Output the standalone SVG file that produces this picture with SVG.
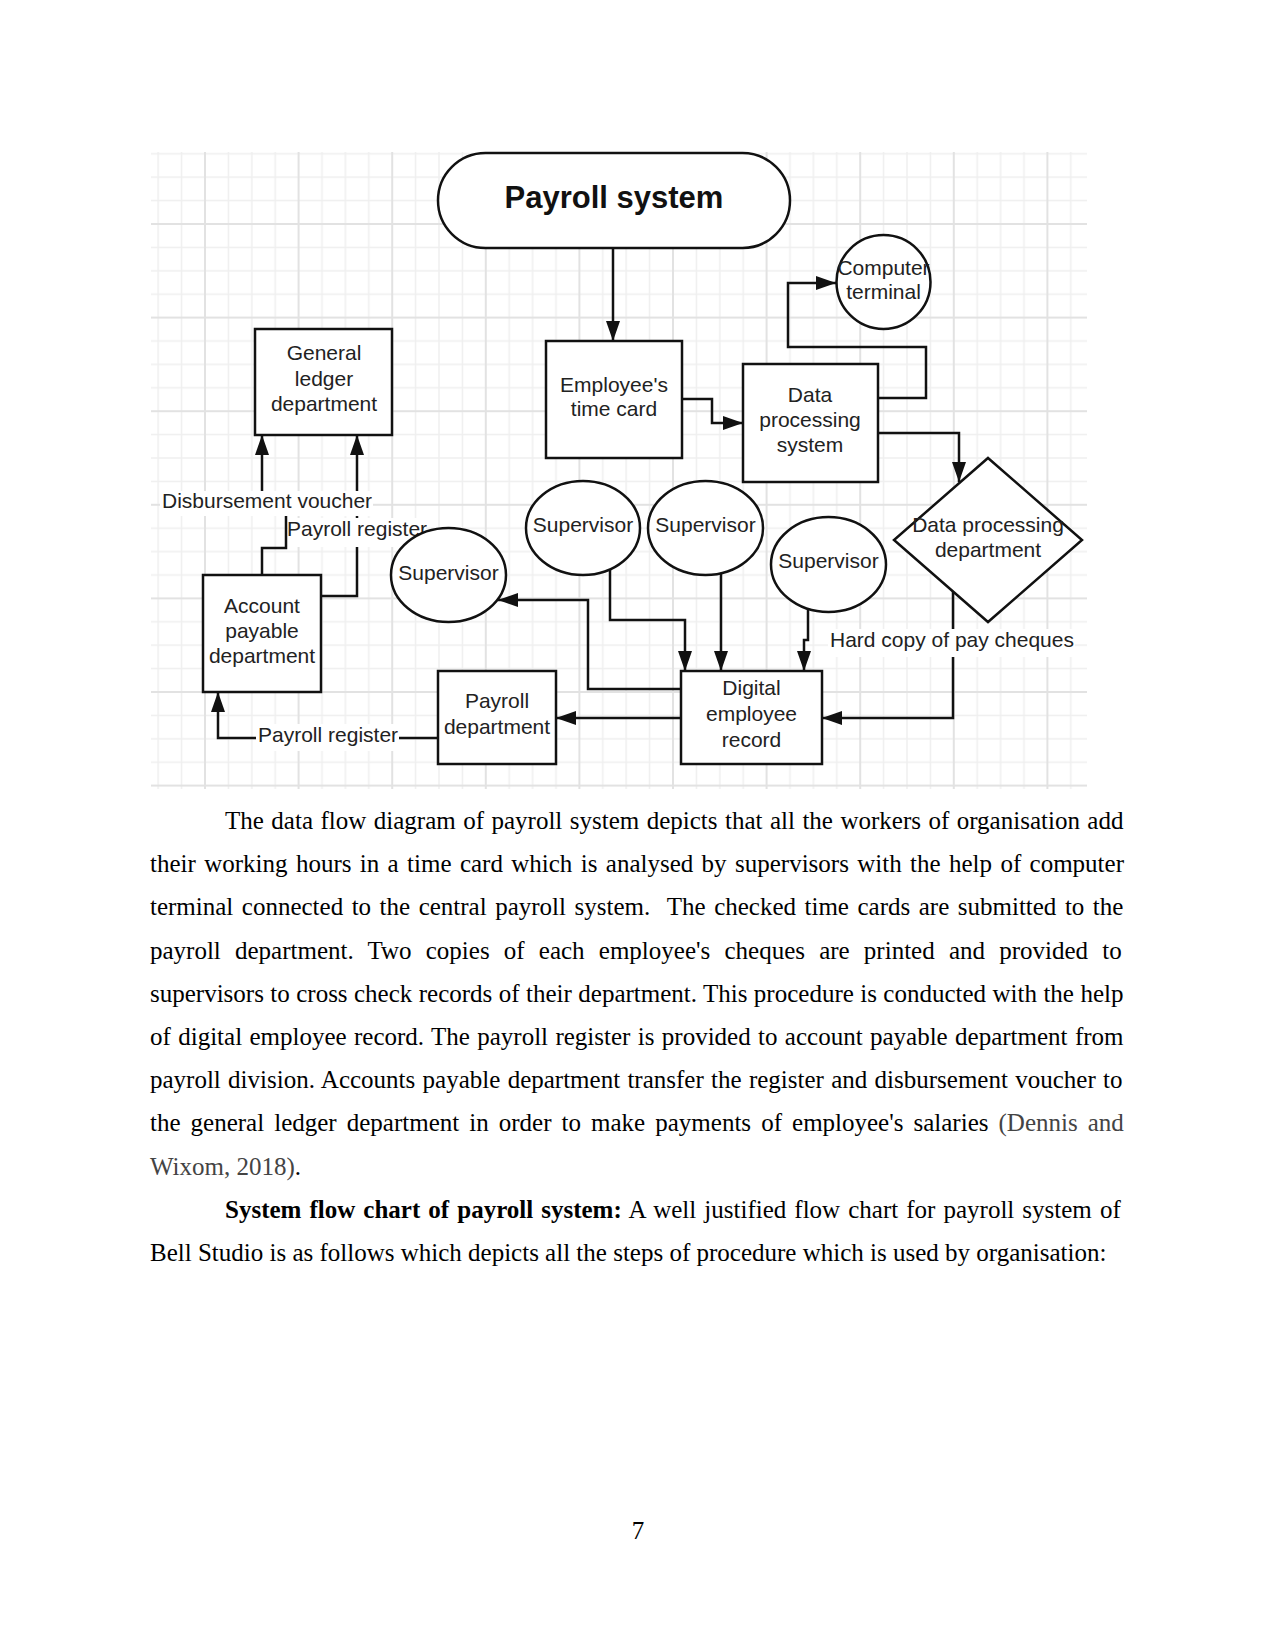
<svg xmlns="http://www.w3.org/2000/svg" width="1275" height="1650" viewBox="0 0 1275 1650">
<style>
.node{fill:#fff;stroke:#111;stroke-width:2.5}
.nt{font-family:"Liberation Sans",Arial,sans-serif;font-size:21px;fill:#222;text-anchor:middle}
.title{font-family:"Liberation Sans",Arial,sans-serif;font-size:31px;font-weight:bold;fill:#111;text-anchor:middle}
.lbl{font-family:"Liberation Sans",Arial,sans-serif;font-size:21px;fill:#222}
.lbg{fill:#fff}
.conn{fill:none;stroke:#111;stroke-width:2.5;marker-end:url(#arr)}
.body{font-family:"Liberation Serif","Times New Roman",serif;font-size:25px;fill:#000}
.cite{fill:#444}
</style>
<defs>
<pattern id="grid" patternUnits="userSpaceOnUse" x="204" y="223" width="93.6" height="93.6">
<path d="M24.4,0V93.6M47.8,0V93.6M71.2,0V93.6M0,24.4H93.6M0,47.8H93.6M0,71.2H93.6" stroke="#efefef" stroke-width="1.5" fill="none"/>
<path d="M1,0V93.6M0,1H93.6" stroke="#e2e2e2" stroke-width="2" fill="none"/>
</pattern>
<marker id="arr" markerUnits="userSpaceOnUse" markerWidth="20" markerHeight="14" refX="20" refY="7" orient="auto">
<path d="M0,0L20,7L0,14z" fill="#111"/>
</marker>
</defs>
<rect width="1275" height="1650" fill="#fff"/>
<rect x="151" y="152" width="936" height="637" fill="url(#grid)"/>

<g id="connectors">
<path class="conn" d="M613,248V341"/>
<path class="conn" d="M682,399H712V423H743"/>
<path class="conn" d="M878,398H926V347H788V283H836"/>
<path class="conn" d="M878,433H959V482"/>
<path class="conn" d="M953,591V718H822"/>
<path class="conn" d="M610,569V620H685V671"/>
<path class="conn" d="M721,573V671"/>
<path class="conn" d="M808,609V640H804V671"/>
<path class="conn" d="M681,689H588V600H498"/>
<path class="conn" d="M681,718H556"/>
<path class="conn" d="M438,738H218V692"/>
<path class="conn" d="M262,575V548H286V505H262V435"/>
<path class="conn" d="M321,596H357V435"/>
<rect class="lbg" x="160" y="491" width="213" height="25"/>
<text class="lbl" x="162" y="508">Disbursement voucher</text>
<rect class="lbg" x="288" y="518" width="138" height="29"/>
<text class="lbl" x="287" y="536">Payroll register</text>
<rect class="lbg" x="256" y="724" width="143" height="27"/>
<text class="lbl" x="258" y="742">Payroll register</text>
<rect class="lbg" x="828" y="629" width="247" height="28"/>
<text class="lbl" x="830" y="647">Hard copy of pay cheques</text>
</g>

<g id="payroll-system">
<rect class="node" x="438" y="153" width="352" height="95" rx="47.5"/>
<text class="title" x="614" y="208">Payroll system</text>
</g>
<g id="employee-time-card">
<rect class="node" x="546" y="341" width="136" height="117"/>
<text class="nt" x="614" y="392">Employee's</text>
<text class="nt" x="614" y="416">time card</text>
</g>
<g id="data-processing-system">
<rect class="node" x="743" y="364" width="135" height="118"/>
<text class="nt" x="810" y="402">Data</text>
<text class="nt" x="810" y="427">processing</text>
<text class="nt" x="810" y="452">system</text>
</g>
<g id="computer-terminal">
<circle class="node" cx="883.5" cy="282" r="47"/>
<text class="nt" x="883.5" y="275">Computer</text>
<text class="nt" x="883.5" y="299">terminal</text>
</g>
<g id="general-ledger">
<rect class="node" x="255" y="329" width="137" height="106"/>
<text class="nt" x="324" y="360">General</text>
<text class="nt" x="324" y="386">ledger</text>
<text class="nt" x="324" y="411">department</text>
</g>
<g id="data-processing-department">
<path class="node" d="M988,458L1082,540L988,622L894,540Z"/>
<text class="nt" x="988" y="532">Data processing</text>
<text class="nt" x="988" y="557">department</text>
</g>
<g id="supervisor-1">
<ellipse class="node" cx="448.5" cy="575" rx="57.5" ry="47"/>
<text class="nt" x="448.5" y="580">Supervisor</text>
</g>
<g id="supervisor-2">
<ellipse class="node" cx="583" cy="528" rx="57" ry="47"/>
<text class="nt" x="583" y="532">Supervisor</text>
</g>
<g id="supervisor-3">
<ellipse class="node" cx="705.5" cy="528" rx="57.5" ry="47"/>
<text class="nt" x="705.5" y="532">Supervisor</text>
</g>
<g id="supervisor-4">
<ellipse class="node" cx="828.5" cy="564.5" rx="57.5" ry="47.5"/>
<text class="nt" x="828.5" y="568">Supervisor</text>
</g>
<g id="account-payable">
<rect class="node" x="203" y="575" width="118" height="117"/>
<text class="nt" x="262" y="613">Account</text>
<text class="nt" x="262" y="638">payable</text>
<text class="nt" x="262" y="663">department</text>
</g>
<g id="payroll-department">
<rect class="node" x="438" y="671" width="118" height="93"/>
<text class="nt" x="497" y="708">Payroll</text>
<text class="nt" x="497" y="734">department</text>
</g>
<g id="digital-employee-record">
<rect class="node" x="681" y="671" width="141" height="93"/>
<text class="nt" x="751.5" y="695">Digital</text>
<text class="nt" x="751.5" y="721">employee</text>
<text class="nt" x="751.5" y="747">record</text>
</g>

<g id="body-text" class="body">
<text x="225" y="829" word-spacing="1.23">The data flow diagram of payroll system depicts that all the workers of organisation add</text>
<text x="150" y="872.2" word-spacing="2.12">their working hours in a time card which is analysed by supervisors with the help of computer</text>
<text x="150" y="915.4" word-spacing="2.26" xml:space="preserve">terminal connected to the central payroll system.  The checked time cards are submitted to the</text>
<text x="150" y="958.6" word-spacing="7.95">payroll department. Two copies of each employee's cheques are printed and provided to</text>
<text x="150" y="1001.8" word-spacing="0.19">supervisors to cross check records of their department. This procedure is conducted with the help</text>
<text x="150" y="1045" word-spacing="1.12">of digital employee record. The payroll register is provided to account payable department from</text>
<text x="150" y="1088.2" word-spacing="1.06">payroll division. Accounts payable department transfer the register and disbursement voucher to</text>
<text x="150" y="1131.4" word-spacing="3.81">the general ledger department in order to make payments of employee's salaries <tspan class="cite">(Dennis and</tspan></text>
<text x="150" y="1174.6"><tspan class="cite">Wixom, 2018)</tspan>.</text>
<text x="225" y="1217.8" word-spacing="1.82"><tspan font-weight="bold">System flow chart of payroll system:</tspan> A well justified flow chart for payroll system of</text>
<text x="150" y="1261">Bell Studio is as follows which depicts all the steps of procedure which is used by organisation:</text>
<text x="638" y="1539" text-anchor="middle">7</text>
</g>
</svg>
